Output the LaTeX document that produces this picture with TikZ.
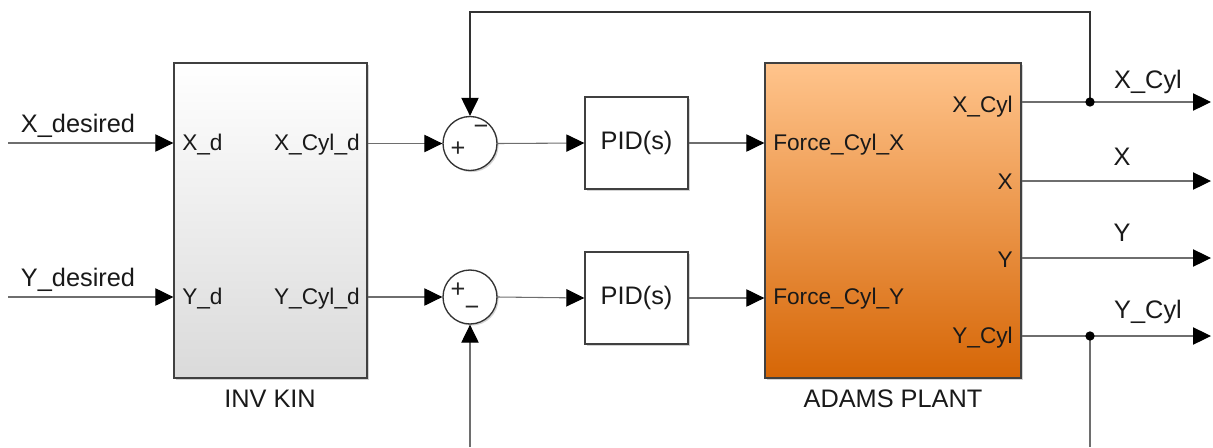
\documentclass[tikz,border=0pt]{standalone}
\usepackage{fontspec}
\setmainfont{Liberation Sans}
\usetikzlibrary{arrows.meta,shadows,calc}
\definecolor{wire}{RGB}{110,110,110}
\definecolor{orangetop}{RGB}{255,196,140}
\definecolor{orangebot}{RGB}{214,102,6}
\definecolor{graybot}{RGB}{218,218,218}
\tikzset{
  wireline/.style={draw=wire, line width=0.8pt},
  sig/.style={wireline, -{Triangle[length=13.5pt,width=13pt,color=black,fill=black]}},
  blk/.style={draw=black!75, line width=1pt, rectangle, inner sep=0pt,
     drop shadow={shadow xshift=1.2pt, shadow yshift=-1.2pt, opacity=0.35}},
  sumblk/.style={draw=black!80, line width=1pt, circle, fill=white, inner sep=0pt,
     minimum size=40.5pt,
     drop shadow={shadow xshift=1.2pt, shadow yshift=-1.2pt, opacity=0.35}},
  lbl/.style={font=\fontsize{19}{22}\selectfont, text=black!90, inner sep=0pt},
  plbl/.style={font=\fontsize{17}{20}\selectfont, text=black!90, inner sep=0pt},
  sgn/.style={font=\fontsize{19}{21}\selectfont, text=black!85, inner sep=0pt},
  dot/.style={circle, fill=black, inner sep=0pt, minimum size=7pt},
}
\begin{document}
\begin{tikzpicture}[x=0.75pt,y=-0.75pt]
\useasboundingbox (0,0) rectangle (1213,447);
% blocks
\node[blk, top color=white, bottom color=graybot, minimum width=144.75pt, minimum height=236.25pt] (inv) at (270.5,220.5) {};
\node[blk, top color=orangetop, bottom color=orangebot, minimum width=192pt, minimum height=236.25pt] (plant) at (893,220.5) {};
\node[blk, fill=white, minimum width=77.25pt, minimum height=69pt, lbl] (pid1) at (636.5,143) {PID(s)};
\node[blk, fill=white, minimum width=77.25pt, minimum height=69pt, lbl] (pid2) at (636.5,298) {PID(s)};
\node[sumblk] (sum1) at (470,143.5) {};
\node[sumblk] (sum2) at (470,297) {};
% signs
\node[sgn] (s1p) at (458,149) {+};
\node[sgn] (s1m) at (481,130) {\textminus};
\node[sgn] (s2p) at (458,290) {+};
\node[sgn] (s2m) at (472,311) {\textminus};
% block labels
\node[lbl, anchor=base] (invlbl) at (270,407) {INV KIN};
\node[lbl, anchor=base] (plantlbl) at (893,407) {ADAMS PLANT};
% port labels
\node[plbl, anchor=base west] (pxd) at (182,150) {X\_d};
\node[plbl, anchor=base west] (pyd) at (182,304) {Y\_d};
\node[plbl, anchor=base east] (pxc) at (360,150) {X\_Cyl\_d};
\node[plbl, anchor=base east] (pyc) at (360,304) {Y\_Cyl\_d};
\node[plbl, anchor=base west] (pfx) at (773,150) {Force\_Cyl\_X};
\node[plbl, anchor=base west] (pfy) at (773,304) {Force\_Cyl\_Y};
\node[plbl, anchor=base east] (pox) at (1013,112) {X\_Cyl};
\node[plbl, anchor=base east] (pX) at (1013,189) {X};
\node[plbl, anchor=base east] (pY) at (1013,267) {Y};
\node[plbl, anchor=base east] (poy) at (1013,343) {Y\_Cyl};
% signal labels
\node[lbl, anchor=base] (lxd) at (78,132) {X\_desired};
\node[lbl, anchor=base] (lyd) at (78,286) {Y\_desired};
\node[lbl, anchor=base] (lo1) at (1148,88) {X\_Cyl};
\node[lbl, anchor=base] (lo2) at (1122,165) {X};
\node[lbl, anchor=base] (lo3) at (1122,241) {Y};
\node[lbl, anchor=base] (lo4) at (1148,318) {Y\_Cyl};
% coordinates
\coordinate (xin) at (8,143);
\coordinate (yin) at (8,297);
\coordinate (o1) at (1211,102);
\coordinate (o2) at (1211,181);
\coordinate (o3) at (1211,258);
\coordinate (o4) at (1211,336);
\coordinate (j1c) at (1090,102);
\coordinate (j2c) at (1090,336);
\coordinate (ftop) at (1090,12);
\coordinate (fbot) at (1090,447);
\coordinate (fbot2) at (470,447);
% wires
\draw[sig] (xin) -- (xin -| inv.west);
\draw[sig] (yin) -- (yin -| inv.west);
\draw[sig] (inv.east |- sum1.west) -- (sum1.west);
\draw[sig] (inv.east |- sum2.west) -- (sum2.west);
\draw[sig] (sum1.east) -- (pid1.west);
\draw[sig] (sum2.east) -- (pid2.west);
\draw[sig] (pid1.east) -- (plant.west |- pid1.east);
\draw[sig] (pid2.east) -- (plant.west |- pid2.east);
\draw[sig] (plant.east |- o1) -- (o1);
\draw[sig] (plant.east |- o2) -- (o2);
\draw[sig] (plant.east |- o3) -- (o3);
\draw[sig] (plant.east |- o4) -- (o4);
\draw[sig, draw=black!80] (j1c) -- (ftop) -| (sum1.north);
\draw[wireline] (j2c) -- (fbot);
\draw[sig] (fbot2) -- (sum2.south);
\node[dot] (j1) at (j1c) {};
\node[dot] (j2) at (j2c) {};
\end{tikzpicture}
\end{document}
